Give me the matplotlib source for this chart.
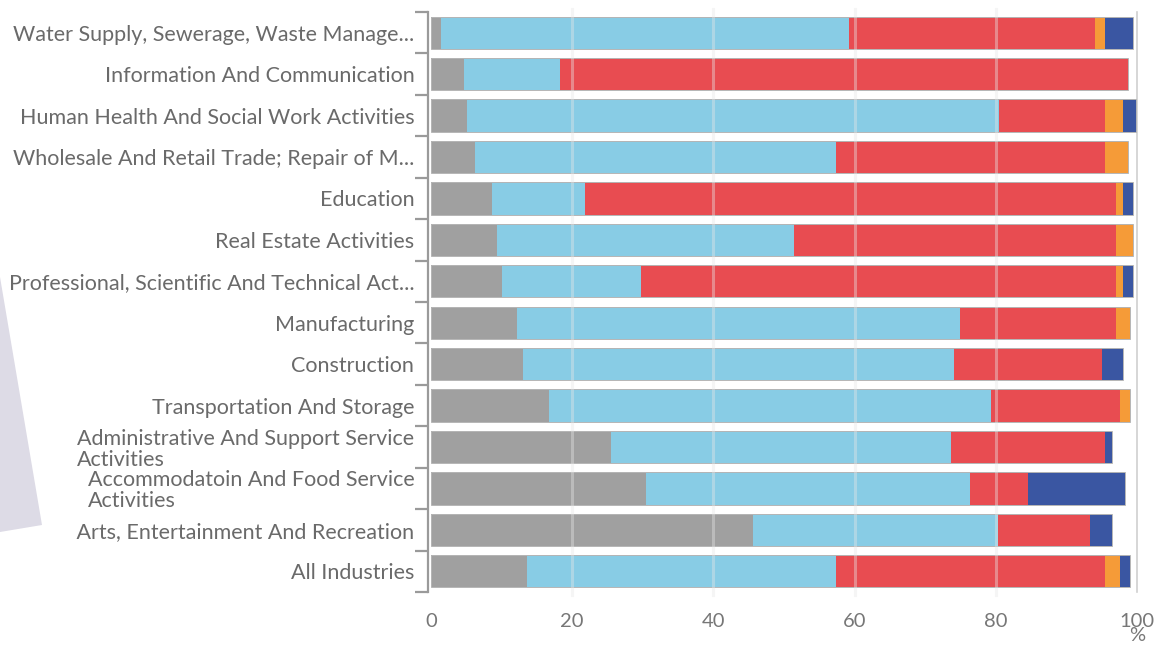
import matplotlib
matplotlib.use("Agg")
import matplotlib.pyplot as plt
from matplotlib.patches import Polygon, Rectangle
from matplotlib.ticker import FixedLocator
import numpy as np

plt.rcParams['font.family'] = ['Lato', 'DejaVu Sans']

industries = [
    "Water Supply, Sewerage, Waste Manage...",
    "Information And Communication",
    "Human Health And Social Work Activities",
    "Wholesale And Retail Trade; Repair of M...",
    "Education",
    "Real Estate Activities",
    "Professional, Scientific And Technical Act...",
    "Manufacturing",
    "Construction",
    "Transportation And Storage",
    "Administrative And Support Service\nActivities",
    "Accommodatoin And Food Service\nActivities",
    " Arts, Entertainment And Recreation",
    "All Industries",
]

# Share of each group (%), stacked left to right
grey_share   = [1.4, 4.7, 5.1, 6.2, 8.6, 9.3, 10.1, 12.2, 13.0, 16.7, 25.5, 30.5, 45.6, 13.6]
blue_share   = [57.8, 13.6, 75.4, 51.2, 13.2, 42.1, 19.6, 62.7, 61.1, 62.6, 48.2, 45.8, 34.7, 43.8]
red_share    = [34.9, 80.4, 15.0, 38.1, 75.2, 45.6, 67.3, 22.1, 20.9, 18.3, 21.8, 8.3, 13.0, 38.1]
orange_share = [1.4, 0.0, 2.5, 3.2, 1.0, 2.4, 1.0, 2.0, 0.0, 1.4, 0.0, 0.0, 0.0, 2.1]
navy_share   = [3.9, 0.0, 1.9, 0.0, 1.4, 0.0, 1.4, 0.0, 3.0, 0.0, 1.0, 13.7, 3.2, 1.4]

x_ticks = [0, 20, 40, 60, 80, 100]
x_tick_labels = ["0", "20", "40", "60", "80", "100\n%"]

series = [grey_share, blue_share, red_share, orange_share, navy_share]
colors = ["#a0a0a0", "#88cce5", "#e84c51", "#f59b38", "#3a56a2"]

W, H = 1155, 647
fig = plt.figure(figsize=(W / 100, H / 100), dpi=100)
fig.patch.set_facecolor("white")

# decorative lavender wedge on the left edge
fig.patches.append(Polygon([(0 / W, 1 - 277 / H), (42 / W, 1 - 525 / H), (0 / W, 1 - 532 / H)],
                           closed=True, transform=fig.transFigure,
                           facecolor="#dddbe6", edgecolor="none", zorder=0))

ax = fig.add_axes([431 / W, 1 - 592 / H, (1137 - 431) / W, (592 - 12) / H])
n = len(industries)
y = np.arange(n)
left = np.zeros(n)
bar_h = 0.78
for vals, c in zip(series, colors):
    vals = np.array(vals)
    ax.barh(y, vals, left=left, height=bar_h, color=c, edgecolor="none", zorder=2)
    left += vals

# thin outline around each full bar
for yi, tot in zip(y, left):
    ax.add_patch(Rectangle((0, yi - bar_h / 2), tot, bar_h, fill=False,
                           edgecolor="#b5b5b5", linewidth=0.7, zorder=3))

ax.set_xlim(0, 100)
ax.set_ylim(n - 0.5, -0.5)

# faint grid lines drawn over the bars
for gx in [20, 40, 60, 80]:
    ax.axvline(gx, ymin=-0.005, ymax=1.005, color="#e6e6e6", alpha=0.4,
               linewidth=2.2, zorder=4, clip_on=False)
ax.axvline(100, ymin=0.0, ymax=1.0, color="#d0d0d0", linewidth=1.2, zorder=1, clip_on=False)

for s in ["top", "right", "bottom"]:
    ax.spines[s].set_visible(False)
ax.spines["left"].set_position(("outward", 2))
ax.spines["left"].set_color("#9a9a9a")
ax.spines["left"].set_linewidth(1.6)

ax.set_yticks(y)
ax.set_yticklabels(industries, fontsize=15.5, color="#6a6a6a", multialignment="left",
                   linespacing=1.05)
ax.yaxis.set_minor_locator(FixedLocator(np.arange(-0.5, n, 1.0)))
ax.tick_params(axis="y", which="major", length=0, pad=10)
ax.tick_params(axis="y", which="minor", length=9.5, width=1.6, color="#9a9a9a", direction="out")

ax.set_xticks(x_ticks)
ax.set_xticklabels(x_tick_labels, fontsize=14.5, color="#777777", linespacing=0.8)
ax.tick_params(axis="x", length=0, pad=15)

fig.savefig("out.png", dpi=100, facecolor="white")
